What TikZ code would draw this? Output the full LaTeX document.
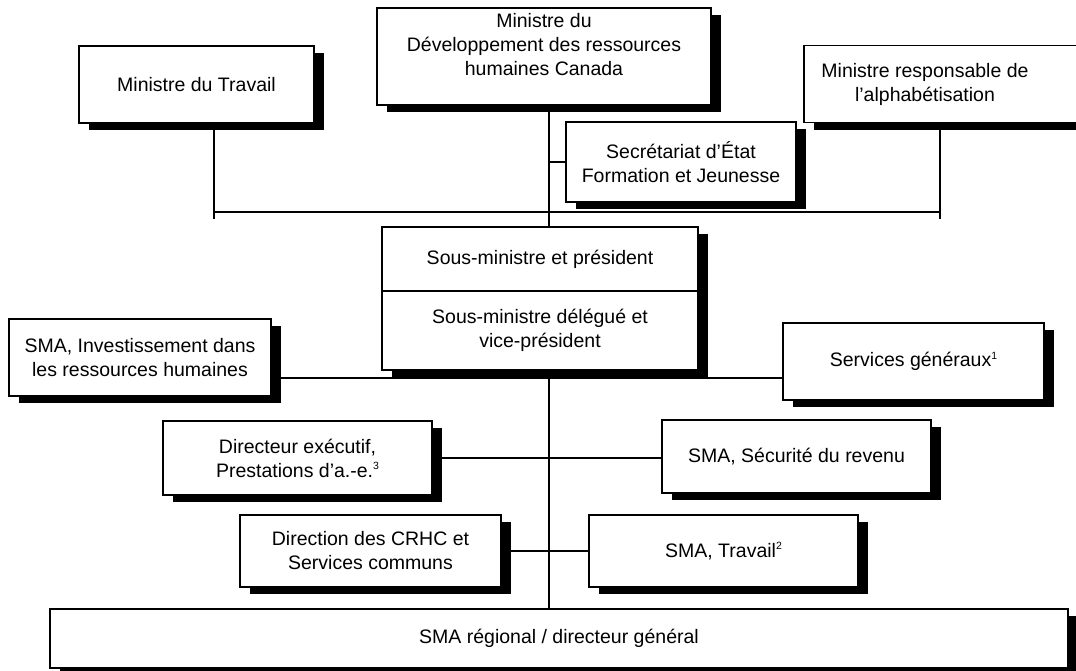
\documentclass[tikz,border=0pt]{standalone}
\usepackage{fontspec}
\setmainfont{Liberation Sans}
\usetikzlibrary{shadows}
\newcommand{\renvoi}[1]{\raisebox{7.5pt}{\fontsize{10.5}{10.5}\selectfont #1}}

\begin{document}
\begin{tikzpicture}[x=1pt,y=-1pt,
    poste/.style={draw, line width=1.5pt, fill=white, align=center, inner sep=0pt,
      font=\fontsize{19.5}{24}\selectfont,
      drop shadow={shadow xshift=10pt, shadow yshift=-7pt, fill=black, opacity=1}},
    texte/.style={align=center, inner sep=0pt, font=\fontsize{19.5}{24}\selectfont},
    lien/.style={line width=1.3pt}]
  \useasboundingbox (0,0) rectangle (1076,670);

  \node[poste, minimum width=235pt, minimum height=77pt] (trav) at (196.5,84.5) {Ministre du Travail};
  \node[poste, minimum width=334pt, minimum height=97pt] (mdrh) at (544,56.5)
    {Ministre du\\Développement des ressources\\humaines Canada\\~};
  \node[poste, minimum width=282pt, minimum height=77pt, anchor=west] (alpha) at (803,84) {};
  \node[texte] (alphatxt) at (925,84) {Ministre responsable de\\l’alphabétisation};
  \node[poste, minimum width=230pt, minimum height=80pt] (sec) at (681,162)
    {Secrétariat d’État\\Formation et Jeunesse};

  \node[poste, minimum width=316pt, minimum height=64pt] (sm1) at (540,259) {Sous-ministre et président};
  \node[poste, minimum width=316pt, minimum height=79pt] (sm2) at (540,330.5)
    {Sous-ministre délégué et\\vice-président};

  \node[poste, minimum width=262pt, minimum height=77pt] (inv) at (140,357.5)
    {SMA, Investissement dans\\les ressources humaines};
  \node[poste, minimum width=261pt, minimum height=77pt] (gen) at (913.5,361.5)
    {Services généraux\renvoi{1}};
  \node[poste, minimum width=269pt, minimum height=74pt] (dir) at (297.5,458)
    {Directeur exécutif,\\Prestations d’a.-e.\renvoi{3}};
  \node[poste, minimum width=269pt, minimum height=73pt] (secu) at (796.5,456.5)
    {SMA, Sécurité du revenu};
  \node[poste, minimum width=261pt, minimum height=72pt] (crhc) at (370.5,551)
    {Direction des CRHC et\\Services communs};
  \node[poste, minimum width=269pt, minimum height=72pt] (trv2) at (723.5,551)
    {SMA, Travail\renvoi{2}};
  \node[poste, minimum width=1018pt, minimum height=59pt] (reg) at (559,638.5)
    {SMA régional / directeur général};

  \coordinate (spine) at (549,0);
  \coordinate (gtrav) at (214,219);
  \coordinate (galpha) at (940,219);
  \coordinate (barre) at (0,212);
  \coordinate (rang) at (0,378);

  \draw[lien] (mdrh.south -| spine) -- (sm1.north -| spine);
  \draw[lien] (sm2.south -| spine) -- (reg.north -| spine);
  \draw[lien] (spine |- sec.west) -- (sec.west);
  \draw[lien] (trav.south -| gtrav) -- (gtrav);
  \draw[lien] (alpha.south -| galpha) -- (galpha);
  \draw[lien] (gtrav |- barre) -- (galpha |- barre);
  \draw[lien] (inv.east |- rang) -- (gen.west |- rang);
  \draw[lien] (dir.east) -- (dir.east -| secu.west);
  \draw[lien] (crhc.east) -- (crhc.east -| trv2.west);
\end{tikzpicture}
\end{document}
